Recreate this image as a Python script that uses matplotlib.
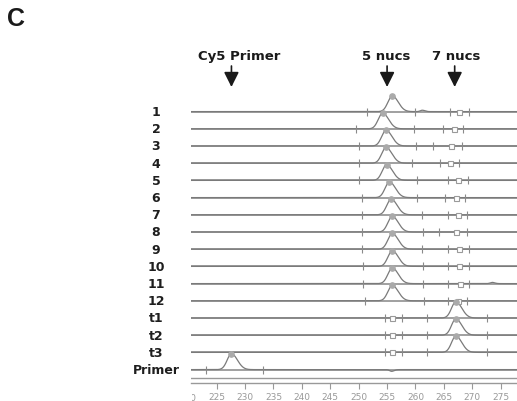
import numpy as np
import matplotlib
matplotlib.use('Agg')
import matplotlib.pyplot as plt
from matplotlib.transforms import Bbox

# lane labels, top to bottom
lanes = ['1', '2', '3', '4', '5', '6', '7', '8', '9', '10', '11', '12',
         't1', 't2', 't3', 'Primer']

# main peak position (nt) and relative height per lane
peak_pos = [255.9, 254.2, 254.8, 254.8, 254.9, 255.4, 255.7, 255.9,
            255.9, 255.9, 255.9, 255.9, 267.1, 267.1, 267.1, 227.6]
peak_height = [0.92, 0.92, 0.92, 0.92, 0.92, 0.92, 0.92, 0.92,
               0.92, 0.92, 0.92, 0.9, 0.95, 0.95, 0.95, 0.92]

# size-standard tick marks on each lane
size_marks = [
    [251.4, 259.9, 266.0, 269.4],
    [249.5, 259.7, 264.9, 268.4],
    [250.0, 260.1, 263.1, 268.2],
    [250.0, 259.4, 264.3, 267.7],
    [250.0, 260.2, 265.8, 269.3],
    [250.6, 260.2, 265.2, 268.7],
    [250.6, 261.1, 265.7, 269.1],
    [250.6, 261.4, 264.2, 269.1],
    [250.6, 261.1, 265.8, 269.5],
    [250.8, 261.3, 265.8, 269.5],
    [250.8, 261.4, 265.8, 269.5],
    [251.1, 261.5, 265.8, 269.0],
    [254.6, 257.6, 262.0, 272.6],
    [254.6, 257.6, 262.0, 272.6],
    [254.6, 257.6, 262.0, 272.6],
    [223.2, 233.1],
]

# expected-size boxes on each lane (None = no box)
box_pos = [267.7, 266.7, 266.2, 266.1, 267.5, 267.1, 267.5, 267.1,
           267.7, 267.7, 267.8, 267.5, 255.9, 255.9, 255.9, None]

# small side bumps: (lane index, position, height)
minor_peaks = [(0, 261.2, 0.08), (10, 273.5, 0.07), (15, 255.8, -0.1)]

# header arrows
arrow_labels = ['Cy5 Primer', '5 nucs', '7 nucs']
arrow_pos = [227.6, 255.0, 266.9]
label_pos = [228.9, 254.8, 267.1]

xticks = [225, 230, 235, 240, 245, 250, 255, 260, 265, 270, 275]

W, H = 517, 402
fig = plt.figure(figsize=(W / 100, H / 100), dpi=100)
fig.patch.set_facecolor('white')

ax_left, ax_right, ax_top, ax_bot = 191, 517, 86.7, 383.5
ax = fig.add_axes([ax_left / W, 1 - ax_bot / H,
                   (ax_right - ax_left) / W, (ax_bot - ax_top) / H])
n = len(lanes)
ax.set_xlim(220.48, 277.87)
ax.set_ylim(-0.75, (370.6 - ax_top) / 17.2)

line_col = '#999999'
trace_col = '#7a7a7a'
xs = np.linspace(220, 280, 3000)


def peak(x, mu, h, sl=0.75, sr=1.05):
    s = np.where(x < mu, sl, sr)
    return h * np.exp(-0.5 * ((x - mu) / s) ** 2)


for i, name in enumerate(lanes):
    y0 = n - 1 - i
    ax.axhline(y0, color=line_col, lw=1.3, zorder=1)
    yy = y0 + peak(xs, peak_pos[i], peak_height[i])
    for (li, p, h) in minor_peaks:
        if li == i:
            yy = yy + peak(xs, p, h, 0.35, 0.45)
    ax.plot(xs, yy, color=trace_col, lw=0.9, zorder=2)
    ax.plot(peak_pos[i], y0 + peak_height[i], 'o', ms=3.8,
            color='#aaaaaa', zorder=3)
    ax.plot(size_marks[i], [y0] * len(size_marks[i]), '|', ms=5.5,
            mew=0.8, color='#8a8a8a', zorder=3)
    if box_pos[i] is not None:
        ax.plot(box_pos[i], y0, 's', ms=3.6, mfc='white', mec='#9a9a9a',
                mew=0.8, zorder=3)
    fig.text(156 / W, 1 - (370.6 - y0 * 17.2) / H, name, ha='center',
             va='center', fontsize=9, fontweight='bold', color='#1e1e1e')

# double axis line at bottom
ax.axhline(-(379.5 - 370.6) / 17.2, color=line_col, lw=1.0)
for s in ['top', 'right', 'left']:
    ax.spines[s].set_visible(False)
ax.spines['bottom'].set_color(line_col)
ax.spines['bottom'].set_linewidth(1.0)
ax.set_yticks([])
ax.set_xticks(xticks)
ax.tick_params(axis='x', length=4, width=0.8, color='#999999',
               labelsize=6.5, labelcolor='#999999', pad=2.5)

# the 220 label, cut by the axis start
t220 = ax.text(220, -0.75 - (10.5 / 17.2), '220', ha='center', va='top',
               fontsize=6.5, color='#999999')
t220.set_clip_on(True)
t220.set_clip_box(Bbox.from_extents(ax_left + 0.5, 0, W, H))

# arrows and their labels
for lab, ap, lp in zip(arrow_labels, arrow_pos, label_pos):
    ax.annotate('', xy=(ap, H - 88), xycoords=('data', 'figure pixels'),
                xytext=(ap, H - 67), textcoords=('data', 'figure pixels'),
                arrowprops=dict(arrowstyle='-|>,head_length=0.9,head_width=0.45',
                                mutation_scale=10, color='#1a1a1a', lw=1.2,
                                shrinkA=0, shrinkB=0),
                annotation_clip=False)
    ax.annotate(lab, xy=(lp, H - 56.5), xycoords=('data', 'figure pixels'),
                ha='center', va='center', fontsize=9.5, fontweight='bold',
                color='#1a1a1a', annotation_clip=False)

fig.text(7 / W, 1 - 19 / H, 'C', fontsize=18, fontweight='bold',
         family='Liberation Sans', ha='left', va='center', color='#1a1a1a')

fig.savefig('out.png', dpi=100)
